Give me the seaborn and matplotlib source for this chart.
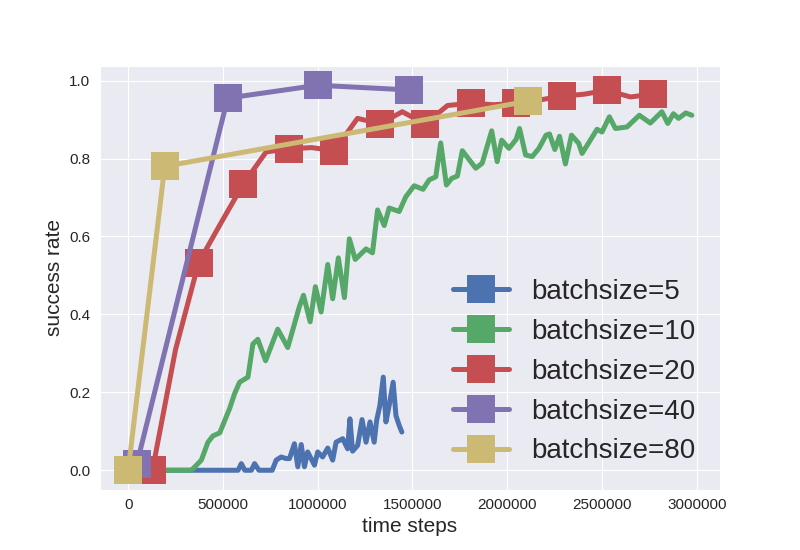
import numpy as np
import pandas as pd
import matplotlib
matplotlib.use("Agg")
import matplotlib.pyplot as plt
import seaborn as sns

# batchsize=5
bs5_x = [0, 150000, 300000, 450000, 580000, 597000, 615000, 650000, 667000, 690000,
         760000, 781000, 807000, 834000, 851000, 877000, 895000, 913000, 930000,
         947000, 983000, 1000000, 1026000, 1053000, 1079000, 1097000, 1132000,
         1158000, 1170000, 1184000, 1211000, 1234000, 1255000, 1276000, 1298000,
         1311000, 1328000, 1346000, 1360000, 1377000, 1398000, 1413000, 1430000, 1444000]
bs5_y = [0.0, 0.0, 0.0, 0.0, 0.0, 0.017, 0.0, 0.0, 0.017, 0.0,
         0.0, 0.026, 0.034, 0.03, 0.03, 0.068, 0.009, 0.066, 0.009,
         0.047, 0.013, 0.047, 0.034, 0.057, 0.026, 0.072, 0.081,
         0.055, 0.132, 0.049, 0.064, 0.130, 0.072, 0.124, 0.072,
         0.128, 0.166, 0.239, 0.124, 0.166, 0.226, 0.140, 0.115, 0.098]

# batchsize=10
bs10_x = [0, 120000, 240000, 330000, 342000, 386000, 421000, 447000, 483000, 535000,
          561000, 588000, 632000, 658000, 684000, 725000, 789000, 842000, 904000,
          925000, 960000, 988000, 1018000, 1053000, 1079000, 1109000, 1141000,
          1167000, 1198000, 1255000, 1289000, 1316000, 1351000, 1377000, 1430000,
          1465000, 1509000, 1556000, 1588000, 1623000, 1649000, 1679000, 1707000,
          1737000, 1763000, 1834000, 1868000, 1918000, 1947000, 1971000, 2009000,
          2047000, 2065000, 2097000, 2132000, 2167000, 2205000, 2223000, 2251000,
          2276000, 2307000, 2339000, 2377000, 2395000, 2474000, 2500000, 2539000,
          2571000, 2632000, 2697000, 2755000, 2816000, 2847000, 2877000, 2904000,
          2942000, 2974000]
bs10_y = [0.0, 0.0, 0.0, 0.0, 0.004, 0.026, 0.072, 0.088, 0.096, 0.158,
          0.196, 0.226, 0.239, 0.324, 0.336, 0.281, 0.362, 0.315, 0.421,
          0.449, 0.381, 0.471, 0.406, 0.528, 0.440, 0.545, 0.443,
          0.594, 0.541, 0.568, 0.558, 0.668, 0.628, 0.673, 0.664,
          0.702, 0.730, 0.721, 0.745, 0.753, 0.840, 0.732, 0.749,
          0.755, 0.820, 0.775, 0.788, 0.871, 0.792, 0.847, 0.826,
          0.849, 0.877, 0.809, 0.805, 0.826, 0.860, 0.863, 0.823,
          0.857, 0.786, 0.860, 0.839, 0.813, 0.875, 0.868, 0.907,
          0.877, 0.881, 0.911, 0.891, 0.920, 0.890, 0.915, 0.903,
          0.917, 0.911]

# batchsize=20
bs20_x = [128000, 250000, 372000, 490000, 608000, 728000, 850000, 968000, 1087000,
          1210000, 1330000, 1446000, 1567000, 1685000, 1809000, 1928000, 2047000,
          2168000, 2288000, 2405000, 2525000, 2650000, 2767000]
bs20_y = [0.0, 0.31, 0.533, 0.635, 0.735, 0.817, 0.825, 0.828, 0.82,
          0.903, 0.889, 0.92, 0.889, 0.936, 0.942, 0.938, 0.942,
          0.95, 0.96, 0.965, 0.975, 0.958, 0.965]

# batchsize=40
bs40_x = [45000, 525000, 1000000, 1480000]
bs40_y = [0.015, 0.955, 0.988, 0.976]

# batchsize=80
bs80_x = [0, 193000, 2109000]
bs80_y = [0.0, 0.78, 0.947]

labels = ["batchsize=5", "batchsize=10", "batchsize=20", "batchsize=40", "batchsize=80"]
colors = ["#4C72B0", "#55A868", "#C44E52", "#8172B2", "#CCB974"]

sns.set_style("darkgrid")
plt.rcParams["font.family"] = ["Liberation Sans", "DejaVu Sans"]

fig, ax = plt.subplots(figsize=(8, 5.5), dpi=100)

series = [(bs5_x, bs5_y, [0]), (bs10_x, bs10_y, [0]), (bs20_x, bs20_y, 2),
          (bs40_x, bs40_y, 1), (bs80_x, bs80_y, 1)]
for (xs, ys, mev), lab, col in zip(series, labels, colors):
    df = pd.DataFrame({"x": xs, "y": ys})
    sns.lineplot(data=df, x="x", y="y", ax=ax, color=col, label=lab,
                 sort=False, estimator=None, lw=3.6, marker="s",
                 markersize=20, markeredgewidth=0, markevery=mev)

ax.set_xlabel("time steps", fontsize=15)
ax.set_ylabel("success rate", fontsize=15)
ax.ticklabel_format(axis="x", style="plain", useOffset=False)
ax.tick_params(axis="both", labelsize=11, length=0)
ax.tick_params(axis="x", pad=6)
ax.tick_params(axis="y", pad=7)
ax.legend(loc="lower right", fontsize=20, frameon=False)

fig.savefig("out.png", dpi=100)
